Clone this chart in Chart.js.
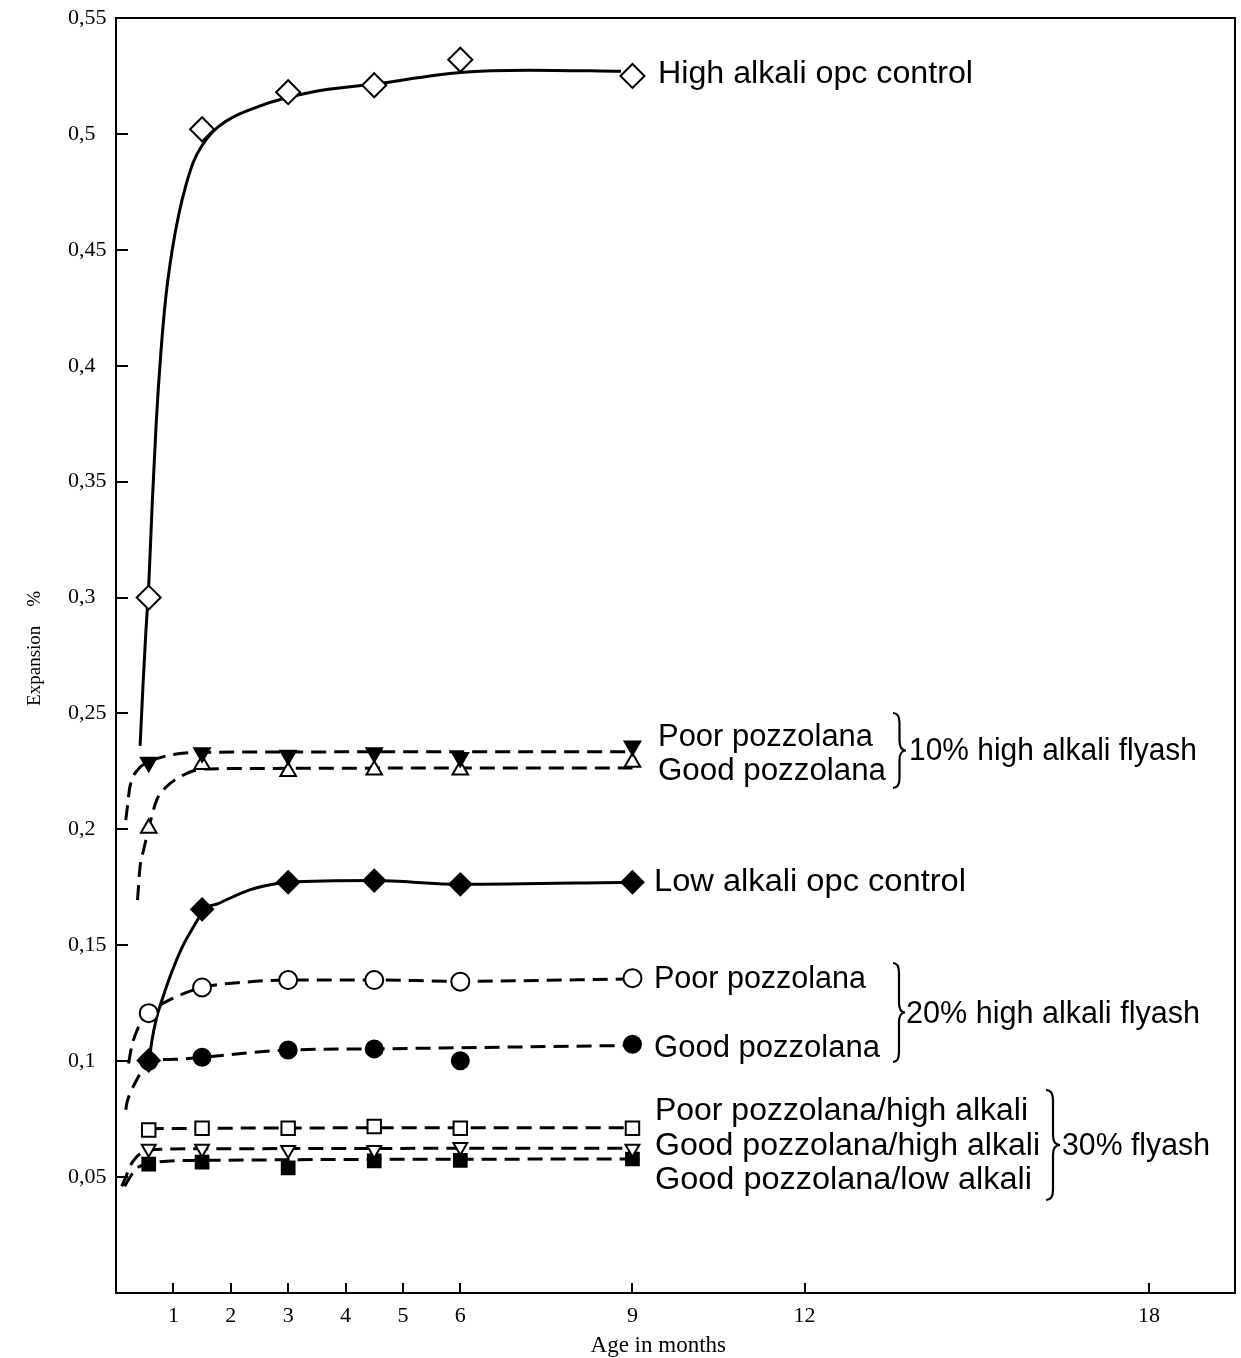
<!DOCTYPE html>
<html>
<head>
<meta charset="utf-8">
<script src="https://cdn.jsdelivr.net/npm/chart.js@4.4.1/dist/chart.umd.min.js"></script>
<style>
  html, body { margin: 0; padding: 0; background: #fff; overflow: hidden; }
  #wrap { position: relative; width: 1241px; height: 1358px; }
  #c { display: block; }
</style>
</head>
<body>
<div id="wrap"><canvas id="c"></canvas></div>
<script>
// ---------------- data ----------------
const ages = [0.57, 1.5, 3, 4.5, 6, 9];           // months of measurement
const xTicks = [1, 2, 3, 4, 5, 6, 9, 12, 18];
const yTicks = [0.05, 0.1, 0.15, 0.2, 0.25, 0.3, 0.35, 0.4, 0.45, 0.5, 0.55];
const yTickLabels = ['0,05', '0,1', '0,15', '0,2', '0,25', '0,3', '0,35', '0,4', '0,45', '0,5', '0,55'];

// High alkali opc control (open diamonds, solid fitted curve)
const highAlkaliOpc = [0.300, 0.502, 0.518, 0.521, 0.532, 0.525];
const highAlkaliOpcFitX = [0.42, 0.47, 0.52, 0.57, 0.63, 0.70, 0.78, 0.87, 0.98, 1.10, 1.22, 1.35, 1.50, 1.78, 2.5, 3.4, 4.5, 6.0, 7.2, 8.8];
const highAlkaliOpcFitY = [0.236, 0.262, 0.285, 0.305, 0.340, 0.375, 0.405, 0.430, 0.450, 0.466, 0.478, 0.488, 0.495, 0.503, 0.512, 0.518, 0.5215, 0.5265, 0.5275, 0.527];

// 10% high alkali flyash
const poor10 = [0.229, 0.233, 0.232, 0.233, 0.231, 0.236];
const poor10FitX = [0.17, 0.20, 0.24, 0.39, 0.57, 0.88, 1.29, 1.6, 9.0];
const poor10FitY = [0.204, 0.210, 0.218, 0.226, 0.229, 0.2317, 0.2331, 0.2333, 0.2335];
const good10 = [0.2005, 0.228, 0.225, 0.2256, 0.2256, 0.229];
const good10FitX = [0.375, 0.42, 0.48, 0.57, 0.71, 0.88, 1.12, 1.41, 1.8, 9.0];
const good10FitY = [0.1695, 0.184, 0.191, 0.2005, 0.2127, 0.2184, 0.2227, 0.2256, 0.2262, 0.2265];

// Low alkali opc control (filled diamonds, solid)
const lowAlkaliOpc = [0.1003, 0.1655, 0.1772, 0.1779, 0.1763, 0.1772];
const lowAlkaliOpcFitX = [0.59, 0.62, 0.71, 0.81, 0.965, 1.15, 1.40, 1.54, 1.78, 2.33, 2.83, 3, 4.5, 6, 9];
const lowAlkaliOpcFitY = [0.102, 0.108, 0.119, 0.127, 0.138, 0.149, 0.160, 0.1655, 0.168, 0.1739, 0.1768, 0.1772, 0.1779, 0.1763, 0.1772];

// 20% high alkali flyash
const poor20 = [0.1207, 0.1318, 0.135, 0.135, 0.1343, 0.1358];
const poor20FitX = [0.22, 0.27, 0.37, 0.47, 0.57, 0.9, 1.5, 2.2, 3, 4.5, 6, 9];
const poor20FitY = [0.099, 0.106, 0.1135, 0.118, 0.1207, 0.126, 0.1318, 0.134, 0.135, 0.135, 0.1345, 0.1355];
const good20 = [0.100, 0.1017, 0.1048, 0.1053, 0.1002, 0.1073];
const good20FitX = [0.17, 0.19, 0.275, 0.39, 0.57, 1.0, 1.5, 3, 4.5, 6, 9];
const good20FitY = [0.079, 0.082, 0.0876, 0.0933, 0.100, 0.1008, 0.1017, 0.1048, 0.1053, 0.1058, 0.1068];

// 30% flyash
const poorHigh30 = [0.0703, 0.0711, 0.0711, 0.0718, 0.0711, 0.0711];
const poorHigh30FitX = [0.57, 3, 9];
const poorHigh30FitY = [0.0709, 0.0712, 0.0713];
const goodHigh30 = [0.0622, 0.0622, 0.0617, 0.0617, 0.0630, 0.0622];
const goodHigh30FitX = [0.10, 0.17, 0.25, 0.35, 0.45, 0.57, 1.5, 9];
const goodHigh30FitY = [0.046, 0.050, 0.055, 0.0585, 0.0605, 0.0617, 0.0622, 0.0625];
const goodLow30 = [0.0556, 0.0565, 0.0540, 0.0570, 0.0572, 0.0578];
const goodLow30FitX = [0.15, 0.22, 0.30, 0.40, 0.57, 1.5, 9];
const goodLow30FitY = [0.046, 0.049, 0.052, 0.0545, 0.056, 0.0572, 0.0578];

// ---------------- helpers ----------------
const pts = (xs, ys) => xs.map((x, i) => ({ x: x, y: ys[i] }));
const DASH = [15, 8];

function markers(values, style, radius, fill, rotation) {
  return {
    data: pts(ages, values), showLine: false, order: 0,
    pointStyle: style, pointRadius: radius, pointRotation: rotation || 0,
    pointBackgroundColor: fill, pointBorderColor: '#000', pointBorderWidth: 2
  };
}
function curve(xs, ys, dashed) {
  return {
    data: pts(xs, ys), showLine: true, order: 1, pointRadius: 0,
    borderColor: '#000', borderWidth: 3, borderDash: dashed ? DASH : [],
    cubicInterpolationMode: 'monotone', fill: false
  };
}

// ---------------- annotation plugin (labels + braces) ----------------
const LABEL_FONT = '31px "Liberation Sans", Arial, sans-serif';
const labelItems = [
  { t: 'High alkali opc control', x: 658, y: 74, w: 315 },
  { t: 'Poor pozzolana', x: 658, y: 737, w: 215 },
  { t: 'Good pozzolana', x: 658, y: 771, w: 228 },
  { t: '10% high alkali flyash', x: 909, y: 751, w: 288 },
  { t: 'Low alkali opc control', x: 654, y: 882, w: 312 },
  { t: 'Poor pozzolana', x: 654, y: 979, w: 212 },
  { t: 'Good pozzolana', x: 654, y: 1048, w: 226 },
  { t: '20% high alkali flyash', x: 906, y: 1014, w: 294 },
  { t: 'Poor pozzolana/high alkali', x: 655, y: 1111, w: 373 },
  { t: 'Good pozzolana/high alkali', x: 655, y: 1146, w: 385 },
  { t: 'Good pozzolana/low alkali', x: 655, y: 1180, w: 377 },
  { t: '30% flyash', x: 1062, y: 1146, w: 148 }
];
const braceItems = [
  { x: 893, top: 713, bot: 788, w: 13 },
  { x: 893, top: 963, bot: 1062, w: 12 },
  { x: 1046, top: 1090, bot: 1200, w: 14 }
];
function drawBrace(ctx, b) {
  const mid = (b.top + b.bot) / 2, h = b.w / 2, r = Math.min(10, (b.bot - b.top) / 6);
  ctx.beginPath();
  ctx.moveTo(b.x, b.top);
  ctx.quadraticCurveTo(b.x + h, b.top, b.x + h, b.top + r);
  ctx.lineTo(b.x + h, mid - r);
  ctx.quadraticCurveTo(b.x + h, mid, b.x + b.w, mid);
  ctx.quadraticCurveTo(b.x + h, mid, b.x + h, mid + r);
  ctx.lineTo(b.x + h, b.bot - r);
  ctx.quadraticCurveTo(b.x + h, b.bot, b.x, b.bot);
  ctx.stroke();
}
const annotationPlugin = {
  id: 'annotations',
  afterDraw(chart) {
    const ctx = chart.ctx;
    ctx.save();
    ctx.fillStyle = '#000';
    ctx.strokeStyle = '#000';
    ctx.lineWidth = 2.2;
    ctx.font = LABEL_FONT;
    ctx.textAlign = 'left';
    ctx.textBaseline = 'middle';
    labelItems.forEach(l => {
      const m = ctx.measureText(l.t).width;
      ctx.save();
      ctx.translate(l.x, l.y);
      ctx.scale(l.w / m, 1);
      ctx.fillText(l.t, 0, 0);
      ctx.restore();
    });
    braceItems.forEach(b => drawBrace(ctx, b));
    ctx.restore();
  }
};

const SERIF = '"Liberation Serif", "Times New Roman", serif';

new Chart(document.getElementById('c'), {
  type: 'line',
  data: {
    datasets: [
      markers(highAlkaliOpc, 'rectRot', 12, '#fff'),
      markers(lowAlkaliOpc, 'rectRot', 11, '#000'),
      markers(poor10, 'triangle', 9, '#000', 180),
      markers(good10, 'triangle', 9, '#fff'),
      markers(poor20, 'circle', 9, '#fff'),
      markers(good20, 'circle', 8.5, '#000'),
      markers(poorHigh30, 'rect', 9.5, '#fff'),
      markers(goodHigh30, 'triangle', 8, '#fff', 180),
      markers(goodLow30, 'rect', 9, '#000'),
      curve(highAlkaliOpcFitX, highAlkaliOpcFitY, false),
      curve(lowAlkaliOpcFitX, lowAlkaliOpcFitY, false),
      curve(poor10FitX, poor10FitY, true),
      curve(good10FitX, good10FitY, true),
      curve(poor20FitX, poor20FitY, true),
      curve(good20FitX, good20FitY, true),
      curve(poorHigh30FitX, poorHigh30FitY, true),
      curve(goodHigh30FitX, goodHigh30FitY, true),
      curve(goodLow30FitX, goodLow30FitY, true)
    ]
  },
  options: {
    responsive: true,
    maintainAspectRatio: false,
    animation: false,
    events: [],
    layout: { autoPadding: false, padding: { top: 18, right: 6, left: 0, bottom: 0 } },
    plugins: { legend: { display: false }, tooltip: { enabled: false } },
    scales: {
      x: {
        type: 'linear', position: 'bottom', min: 0, max: 19.5,
        afterBuildTicks: s => { s.ticks = xTicks.map(v => ({ value: v })); },
        afterFit: s => { s.height = 65; s.paddingLeft = 0; s.paddingRight = 0; },
        ticks: { autoSkip: false, maxRotation: 0, color: '#000', padding: 0,
                 font: { family: SERIF, size: 22, lineHeight: 3 }, callback: v => String(v) },
        grid: { drawOnChartArea: false, drawTicks: true, tickLength: -10, color: '#000', lineWidth: 2 },
        border: { display: true, color: '#000', width: 2 },
        title: { display: true, text: 'Age in months      ', color: '#000',
                 font: { family: SERIF, size: 23, lineHeight: 1 }, padding: { top: 0, bottom: 0.5 } }
      },
      y: {
        type: 'linear', position: 'left', weight: 0, min: 0, max: 0.55,
        afterBuildTicks: s => { s.ticks = yTicks.map(v => ({ value: v })); },
        afterFit: s => { s.width = 48; },
        ticks: { crossAlign: 'far', color: '#000', font: { family: SERIF, size: 22 },
                 callback: v => { const i = yTicks.findIndex(t => Math.abs(t - v) < 1e-9); return i >= 0 ? yTickLabels[i] : ''; } },
        grid: { drawOnChartArea: false, drawTicks: true, tickLength: -12, color: '#000', lineWidth: 2 },
        border: { display: true, color: '#000', width: 2 }
      },
      yTitle: {
        type: 'linear', position: 'left', weight: 1,
        afterFit: s => { s.width = 68; },
        ticks: { display: false },
        grid: { display: false, drawTicks: false },
        border: { display: false },
        title: { display: true, text: '   Expansion    %', color: '#000',
                 font: { family: SERIF, size: 19 }, padding: { top: 24, bottom: 0 } }
      },
      xTop: {
        type: 'linear', position: 'top',
        afterFit: s => { s.height = 0; },
        ticks: { display: false },
        grid: { display: false, drawTicks: false },
        border: { display: true, color: '#000', width: 2 }
      },
      yRight: {
        type: 'linear', position: 'right',
        afterFit: s => { s.width = 0; },
        ticks: { display: false },
        grid: { display: false, drawTicks: false },
        border: { display: true, color: '#000', width: 2 }
      }
    }
  },
  plugins: [annotationPlugin]
});
</script>
</body>
</html>
